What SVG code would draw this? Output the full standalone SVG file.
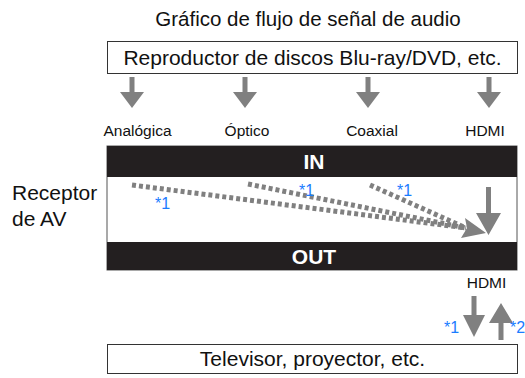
<svg xmlns="http://www.w3.org/2000/svg" width="525" height="378" viewBox="0 0 525 378">
<style>
text{font-family:"Liberation Sans",Arial,sans-serif;fill:#111}
.t{font-size:21px;text-anchor:middle}
.lbl{font-size:15.5px;text-anchor:middle}
.bar{font-size:21px;font-weight:bold;fill:#fff;text-anchor:middle}
.n{font-size:16px;fill:#1a7cff}
.box{fill:#fff;stroke:#333;stroke-width:1}
.arr{fill:#808080}
.dash{stroke:#808080;stroke-width:5;stroke-dasharray:4 3;fill:none}
</style>
<defs>
<path id="down" d="M-2.5,0 H2.5 V15 H12 L0,31 L-12,15 H-2.5 Z"/>
</defs>
<text x="308" y="26" class="t" style="font-size:20.5px">Gráfico de flujo de señal de audio</text>
<g id="player">
<rect x="107.5" y="41.5" width="410" height="32" class="box"/>
<text x="312.5" y="65" class="t">Reproductor de discos Blu-ray/DVD, etc.</text>
</g>
<g id="receiver">
<rect x="107" y="146" width="410" height="124" fill="#fff" stroke="#555" stroke-width="1"/>
<rect x="107" y="146" width="410" height="31" fill="#231f20"/>
<rect x="107" y="242" width="410" height="28" fill="#231f20"/>
<text x="314" y="169" class="bar">IN</text>
<text x="314" y="264" class="bar">OUT</text>
</g>
<text x="12" y="200" style="font-size:21px">Receptor</text>
<text x="12" y="226" style="font-size:21px">de AV</text>
<g id="tv">
<rect x="107.5" y="344.5" width="410" height="29" class="box"/>
<text x="312.5" y="366" class="t">Televisor, proyector, etc.</text>
</g>
<g id="connectors">
<use href="#down" x="132" y="77" class="arr"/>
<use href="#down" x="245" y="77" class="arr"/>
<use href="#down" x="368" y="77" class="arr"/>
<use href="#down" x="489" y="77" class="arr"/>
<text x="137.5" y="136" class="lbl">Analógica</text>
<text x="247" y="136" class="lbl">Óptico</text>
<text x="372" y="136" class="lbl">Coaxial</text>
<text x="485" y="136" class="lbl">HDMI</text>
<path d="M132,185 L466,228" class="dash"/>
<path d="M248,184 L466,228" class="dash"/>
<path d="M370,185 L466,228" class="dash"/>
<path d="M486,233 L461,238 L467,228 L465,218 Z" class="arr"/>
<path d="M486,187 H491 V213 H501 L488.5,235 L476,213 H486 Z" class="arr"/>
<text x="155" y="209" class="n">*1</text>
<text x="299" y="196" class="n">*1</text>
<text x="397" y="196" class="n">*1</text>
<text x="486.5" y="288" class="lbl">HDMI</text>
<path d="M471.5,296 H476.5 V315 H485 L474,337 L463,315 H471.5 Z" class="arr"/>
<path d="M498.5,340 H503.5 V323 H513 L501,303 L489,323 H498.5 Z" class="arr"/>
<text x="444" y="333" class="n">*1</text>
<text x="510" y="333" class="n">*2</text>
</g>
</svg>
